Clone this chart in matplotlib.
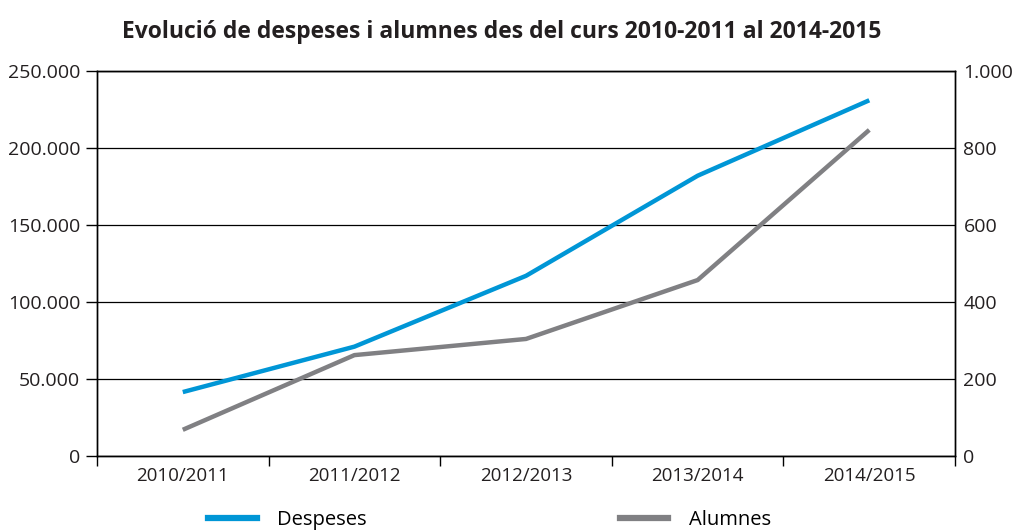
import numpy as np
import matplotlib as mpl
mpl.use('Agg')
import matplotlib.pyplot as plt
from matplotlib.ticker import FuncFormatter
from matplotlib.lines import Line2D

plt.rcParams['font.family'] = ['Open Sans', 'DejaVu Sans']

cursos = ["2010/2011", "2011/2012", "2012/2013", "2013/2014", "2014/2015"]
despeses = [41500, 71000, 117000, 182000, 231000]
alumnes = [68, 262, 304, 457, 847]

blue = '#0096d6'
gray = '#808083'


def thousands(v, pos):
    return "{:,.0f}".format(v).replace(",", ".")


fig = plt.figure(figsize=(10.24, 5.32), dpi=100)
ax = fig.add_axes([0.0947, 0.1429, 0.838, 0.7236])
ax2 = ax.twinx()

x = np.arange(len(cursos))
ax.plot(x, despeses, color=blue, lw=3.2, solid_capstyle='butt', zorder=3)
ax2.plot(x, alumnes, color=gray, lw=3.2, solid_capstyle='butt', zorder=3)

ax.set_xlim(-0.5, len(cursos) - 0.5)
ax.set_ylim(0, 250000)
ax2.set_ylim(0, 1000)
ax.set_yticks(np.arange(0, 250001, 50000))
ax2.set_yticks(np.arange(0, 1001, 200))
ax.yaxis.set_major_formatter(FuncFormatter(thousands))
ax2.yaxis.set_major_formatter(FuncFormatter(thousands))

ax.set_xticks(x)
ax.set_xticklabels(cursos, fontsize=13.5, color='#231f20')
ax.set_xticks(np.arange(-0.5, len(cursos), 1), minor=True)
ax.tick_params(axis='x', which='major', length=0, pad=8)
ax.tick_params(axis='x', which='minor', length=7, width=1, direction='out')
ax.tick_params(axis='y', length=8, width=1, labelsize=14, labelcolor='#231f20', pad=4)
ax2.tick_params(axis='y', length=0, labelsize=14, labelcolor='#231f20', pad=6)

ax.yaxis.grid(True, color='black', lw=0.9)
ax.set_axisbelow(True)
for a in (ax, ax2):
    for s in a.spines.values():
        s.set_linewidth(1.0)
        s.set_color('black')

fig.suptitle("Evolució de despeses i alumnes des del curs 2010-2011 al 2014-2015",
             x=0.49, y=0.963, fontsize=16.5, fontweight='bold', color='#231f20')

handles = [Line2D([], [], color=blue, lw=4.5), Line2D([], [], color=gray, lw=4.5)]
fig.legend(handles, ["Despeses", "Alumnes"], loc='center', bbox_to_anchor=(0.478, 0.022),
           ncol=2, frameon=False, fontsize=14.5, handlelength=2.4, handletextpad=1.0,
           columnspacing=12.6)

plt.savefig("out.png", dpi=100)
